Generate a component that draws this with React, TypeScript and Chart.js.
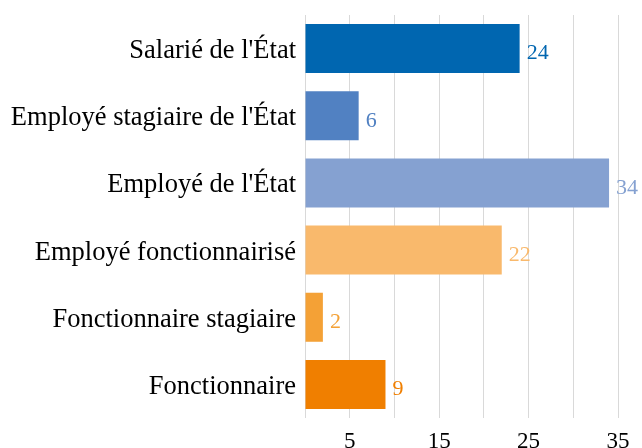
import React, { useEffect, useRef } from "react";
import { Chart, registerables } from "chart.js";

Chart.register(...registerables);

const categories = [
  "Salarié de l'État",
  "Employé stagiaire de l'État",
  "Employé de l'État",
  "Employé fonctionnairisé",
  "Fonctionnaire stagiaire",
  "Fonctionnaire",
];
const values = [24, 6, 34, 22, 2, 9];
const barColors = ["#0066B0", "#5181C2", "#85A1D1", "#F9B96C", "#F4A136", "#F07F00"];
const shownTicks = [5, 15, 25, 35];

const FONT = "'Liberation Serif', 'Times New Roman', serif";

const valueLabels = {
  id: "valueLabels",
  afterDatasetsDraw(chart: any) {
    const ctx = chart.ctx;
    const meta = chart.getDatasetMeta(0);
    ctx.save();
    ctx.font = `22px ${FONT}`;
    ctx.textAlign = "left";
    ctx.textBaseline = "middle";
    meta.data.forEach((bar: any, i: number) => {
      ctx.fillStyle = barColors[i];
      ctx.fillText(String(values[i]), bar.x + 7, bar.y + 5);
    });
    ctx.restore();
  },
};

export default function App() {
  const ref = useRef<HTMLCanvasElement>(null);
  useEffect(() => {
    document.body.style.margin = "0";
    const chart = new Chart(ref.current!, {
      type: "bar",
      data: {
        labels: categories.map((c) => ["", c]),
        datasets: [
          {
            data: values,
            backgroundColor: barColors,
            categoryPercentage: 0.73,
            barPercentage: 1,
          },
        ],
      },
      options: {
        indexAxis: "y",
        animation: false,
        responsive: false,
        layout: { padding: { top: 15, right: 24, left: 0, bottom: 0 } },
        plugins: { legend: { display: false }, tooltip: { enabled: false } },
        scales: {
          x: {
            min: 0,
            max: 35,
            border: { display: false },
            grid: { color: "#D9D9D9", lineWidth: 1, drawTicks: false },
            afterFit: (s: any) => {
              s.height = 30;
              s.paddingLeft = 0;
              s.paddingRight = 0;
            },
            ticks: {
              stepSize: 5,
              autoSkip: false,
              maxRotation: 0,
              padding: 10,
              color: "#000",
              font: { family: FONT, size: 23 },
              callback: (v: any) => (shownTicks.includes(Number(v)) ? String(v) : ""),
            },
          },
          y: {
            border: { display: false },
            grid: { display: false, drawTicks: false },
            afterFit: (s: any) => {
              s.width = 305;
              s.paddingTop = 0;
              s.paddingBottom = 0;
            },
            ticks: {
              padding: 9,
              color: "#000",
              font: { family: FONT, size: 26.5, lineHeight: 0.19 },
            },
          },
        },
      },
      plugins: [valueLabels],
    });
    return () => chart.destroy();
  }, []);
  return <canvas ref={ref} width={642} height={448} style={{ display: "block" }} />;
}
